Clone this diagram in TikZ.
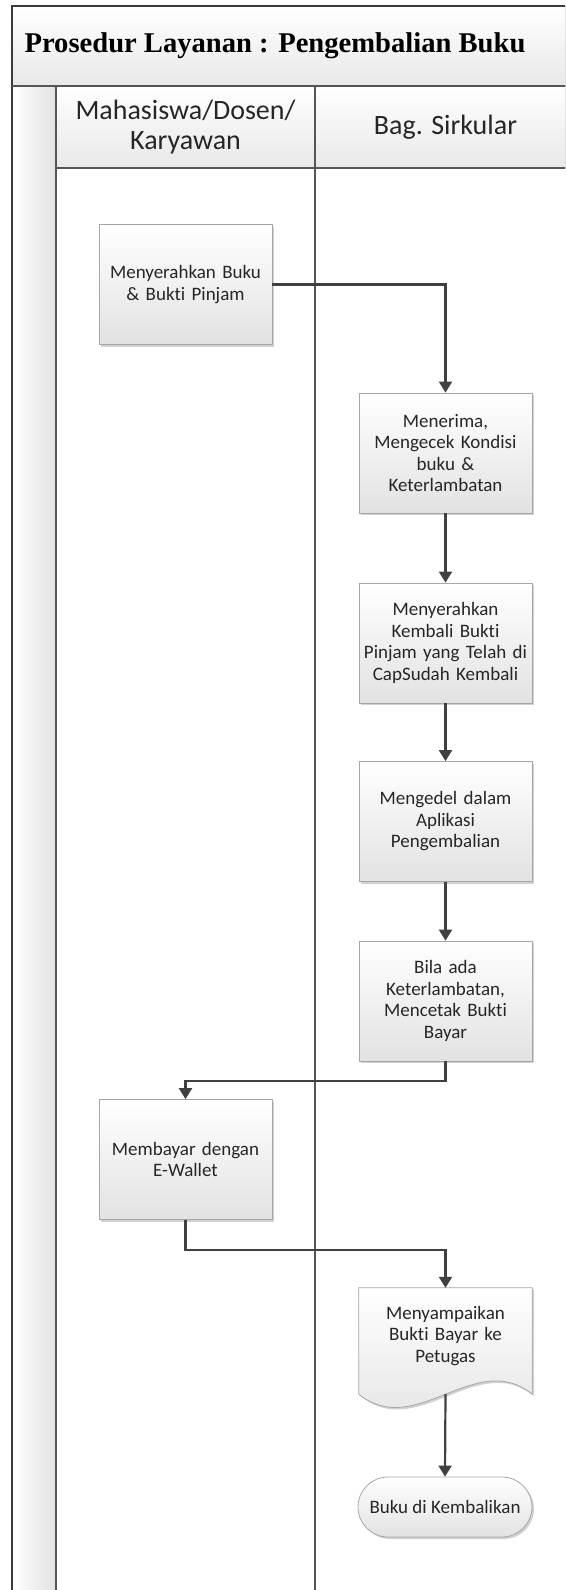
\documentclass[tikz,border=0pt]{standalone}
\usepackage{fontspec}
\setmainfont[RawFeature={-liga;-clig;-calt;-dlig}]{Carlito}
\newfontfamily\titlefont{Liberation Serif}
\usetikzlibrary{arrows.meta,shadows,calc}
\definecolor{frameclr}{HTML}{3A3A3A}
\definecolor{laneclr}{HTML}{555555}
\definecolor{hdrbot}{HTML}{E8E8E8}
\definecolor{stripclr}{HTML}{E2E2E2}
\definecolor{boxborder}{HTML}{A6A6A6}
\definecolor{boxbot}{HTML}{E2E2E2}
\definecolor{txtclr}{HTML}{262626}
\definecolor{arrclr}{HTML}{404040}
\begin{document}
\begin{tikzpicture}[x=1pt,y=-1pt,
  boxshadow/.style={drop shadow={shadow xshift=2pt,shadow yshift=-2pt,fill=black,opacity=0.18}},
  proc/.style={draw=boxborder,line width=0.8pt,top color=white,bottom color=boxbot,
    minimum width=173pt,minimum height=120pt,text width=165pt,align=center,inner sep=0pt,
    font=\fontsize{19}{21.5}\selectfont,text=txtclr,boxshadow},
  docshape/.style={draw=boxborder,line width=0.8pt,top color=white,bottom color=boxbot,boxshadow},
  plain/.style={inner sep=0pt,minimum width=173pt,minimum height=106pt},
  doctext/.style={text width=165pt,align=center,inner sep=0pt,
    font=\fontsize{19}{21.5}\selectfont,text=txtclr},
  term/.style={draw=boxborder,line width=0.8pt,top color=white,bottom color=boxbot,
    minimum width=174pt,minimum height=60pt,rounded corners=30pt,inner sep=0pt,
    font=\fontsize{19}{21.5}\selectfont,text=txtclr,boxshadow},
  hdr/.style={align=center,inner sep=0pt,font=\fontsize{28}{30}\selectfont,text=txtclr},
  ttl/.style={inner sep=0pt,font=\titlefont\bfseries\fontsize{28.6}{30}\selectfont,text=black},
  frame/.style={draw=frameclr,line width=1.4pt},
  laneline/.style={draw=laneclr,line width=1.1pt},
  arr/.style={draw=arrclr,line width=2.2pt,-{Triangle[length=11pt,width=13pt]}}]
\useasboundingbox (0,0) rectangle (565,1590);
\clip (0,0) rectangle (565,1590);
% background bands
\fill[top color=white,bottom color=hdrbot] (12,6) rectangle (590,86);
\fill[left color=white,right color=stripclr] (12,86) rectangle (56,1600);
\fill[top color=white,bottom color=hdrbot] (56,86) rectangle (590,168);
% lines
\draw[frame] (590,6) -- (12,6) -- (12,1600);
\draw[laneline] (12,86) -- (590,86);
\draw[laneline] (56,86) -- (56,1600);
\draw[laneline] (56,168) -- (590,168);
\draw[laneline] (315,86) -- (315,1600);
% texts of bands
\node[ttl] (title) at (275,46) {Prosedur Layanan : Pengembalian Buku};
\node[hdr] (h1) at (185.5,127) {Mahasiswa/Dosen/\\Karyawan};
\node[hdr] (h2) at (445.5,127) {Bag. Sirkular};
% process boxes
\node[proc] (b1) at (185.5,284.5) {Menyerahkan Buku\\\& Bukti Pinjam};
\node[proc] (b2) at (445.5,453) {Menerima,\\Mengecek Kondisi\\buku \&\\Keterlambatan};
\node[proc] (b3) at (445.5,643) {Menyerahkan\\Kembali Bukti\\Pinjam yang Telah di\\CapSudah Kembali};
\node[proc] (b4) at (445.5,821.5) {Mengedel dalam\\Aplikasi\\Pengembalian};
\node[proc] (b5) at (445.5,1001) {Bila ada\\Keterlambatan,\\Mencetak Bukti\\Bayar};
\node[proc] (b6) at (185.5,1159.5) {Membayar dengan\\E-Wallet};
% document shape
\node[plain] (doc) at (445.5,1341) {};
\path[docshape] (doc.north west) -- (doc.north east) -- (doc.south east)
  .. controls +(-57,-46) and +(57,46) .. (doc.south west) -- cycle;
\node[doctext] (doct) at (445.5,1336) {Menyampaikan\\Bukti Bayar ke\\Petugas};
% terminal
\node[term] (t1) at (445,1507) {Buku di Kembalikan};
% connectors
\draw[arr] (b1.east) -| (b2.north);
\draw[arr] (b2.south) -- (b3.north);
\draw[arr] (b3.south) -- (b4.north);
\draw[arr] (b4.south) -- (b5.north);
\draw[arr] (b5.south) -- ++(0,19.5) -| (b6.north);
\draw[arr] (b6.south) -- ++(0,30) -| (doc.north);
\draw[arr] (doc.south) -- (t1.north);
\end{tikzpicture}
\end{document}
